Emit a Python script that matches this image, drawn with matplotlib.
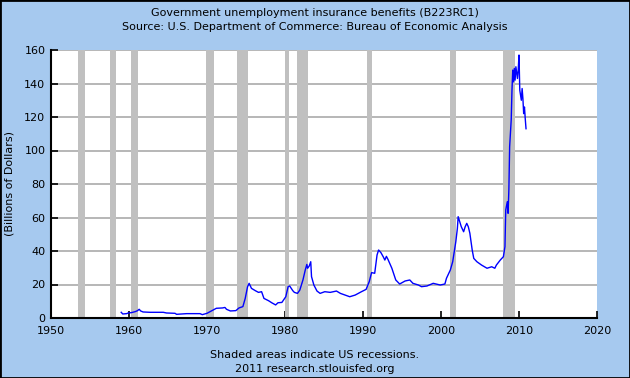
import matplotlib
matplotlib.use("Agg")
import matplotlib.pyplot as plt

# recessions (start, end) in decimal years
rec_start = [1953.5, 1957.6, 1960.3, 1969.9, 1973.9, 1980.0, 1981.5, 1990.5, 2001.2, 2007.9]
rec_end = [1954.4, 1958.3, 1961.1, 1970.9, 1975.2, 1980.5, 1982.9, 1991.2, 2001.9, 2009.5]

# B223RC1, billions of dollars
years = [1959.0, 1959.2, 1959.7, 1959.9, 1960.3, 1960.8, 1961.1, 1961.3, 1961.5, 1961.8,
         1962.7, 1964.4, 1964.8, 1965.9, 1966.1, 1967.4, 1969.1, 1969.4, 1970.0, 1970.4,
         1970.8, 1971.2, 1972.0, 1972.3, 1972.5, 1973.0, 1973.7, 1974.1, 1974.6, 1974.9,
         1975.2, 1975.4, 1975.7, 1976.2, 1976.6, 1977.0, 1977.3, 1977.9, 1978.3, 1978.8,
         1979.1, 1979.6, 1979.8, 1980.1, 1980.4, 1980.6, 1981.0, 1981.2, 1981.6, 1981.9,
         1982.3, 1982.6, 1982.8, 1982.9, 1983.1, 1983.3, 1983.4, 1983.7, 1984.1, 1984.5,
         1985.1, 1985.8, 1986.6, 1987.1, 1987.7, 1988.3, 1989.0, 1989.8, 1990.4, 1990.8,
         1991.1, 1991.5, 1991.8, 1992.0, 1992.3, 1992.6, 1992.8, 1993.0, 1993.2, 1993.7,
         1994.2, 1994.7, 1995.4, 1996.0, 1996.4, 1997.1, 1997.5, 1998.2, 1999.0, 1999.9,
         2000.5, 2000.7, 2001.2, 2001.5, 2001.7, 2001.9, 2002.1, 2002.2, 2002.4, 2002.6,
         2002.9, 2003.1, 2003.3, 2003.5, 2003.7, 2004.0, 2004.2, 2004.6, 2005.2, 2005.9,
         2006.5, 2006.9, 2007.1, 2007.6, 2008.0, 2008.2, 2008.3, 2008.5, 2008.6, 2008.7,
         2008.8, 2009.0, 2009.1, 2009.2, 2009.3, 2009.4, 2009.5, 2009.6, 2009.8, 2009.9,
         2010.0, 2010.1, 2010.3, 2010.4, 2010.5, 2010.6, 2010.7, 2010.8, 2010.9]
values = [3.4, 2.4, 2.6, 3.0, 3.2, 3.8, 4.4, 5.2, 4.2, 3.6,
          3.4, 3.4, 3.0, 2.8, 2.2, 2.6, 2.6, 2.0, 2.8, 3.8,
          4.8, 5.8, 6.0, 6.3, 5.2, 4.2, 4.4, 6.0, 6.8, 11.7,
          18.7, 20.7, 17.7, 16.3, 15.3, 15.7, 11.7, 10.3, 9.1, 7.8,
          9.1, 9.3, 10.7, 12.7, 18.7, 19.1, 16.3, 15.3, 14.7, 16.7,
          22.7, 28.7, 32.0, 29.7, 31.0, 33.6, 24.7, 19.7, 16.1, 14.7,
          15.7, 15.3, 16.1, 14.7, 13.7, 12.7, 13.7, 15.7, 17.1, 21.7,
          27.1, 26.7, 37.6, 40.6, 39.0, 36.5, 34.6, 36.8, 35.0, 29.7,
          22.7, 20.3, 22.1, 22.7, 20.7, 19.7, 18.7, 19.1, 20.7, 19.7,
          20.3, 23.7, 28.7, 33.6, 39.6, 45.6, 53.5, 60.5, 57.5, 54.5,
          51.5, 54.5, 56.5, 54.5, 50.6, 40.6, 35.6, 33.6, 31.6, 29.7,
          30.6, 29.7, 31.6, 34.6, 36.6, 42.6, 64.5, 69.4, 62.5, 76.4,
          102.3, 118.2, 136.1, 148.0, 141.0, 149.0, 142.0, 150.0, 143.0, 148.0,
          157.0, 136.0, 130.0, 137.0, 131.0, 122.0, 126.0, 119.0, 113.0]

bg = "#a6c9ef"

fig = plt.figure(figsize=(6.3, 3.78), dpi=100, facecolor=bg)
ax = fig.add_axes([51 / 630, 1 - 318 / 378, 546 / 630, 268 / 378])
ax.set_facecolor("white")

ax.grid(axis="y", color="#aaaaaa", linewidth=1.2, zorder=0)
ax.set_axisbelow(True)
for s, e in zip(rec_start, rec_end):
    ax.axvspan(s, e, color="#c0c0c0", linewidth=0, zorder=1)

ax.plot(years, values, color="#0000ff", linewidth=1.0, zorder=3)

ax.set_xlim(1950, 2020)
ax.set_ylim(0, 160)
ax.set_xticks(range(1950, 2021, 10))
ax.set_yticks(range(0, 161, 20))
ax.tick_params(direction="in", length=5, width=1.2, labelsize=8, colors="black")
ax.tick_params(axis="x", pad=6)
ax.tick_params(axis="y", pad=4)
for side in ["top", "right"]:
    ax.spines[side].set_visible(False)
for side in ["left", "bottom"]:
    ax.spines[side].set_linewidth(1.5)
ax.set_ylabel("(Billions of Dollars)", fontsize=8, labelpad=7)

fig.text(0.5, 1 - 13 / 378, "Government unemployment insurance benefits (B223RC1)",
         ha="center", va="center", fontsize=8)
fig.text(0.5, 1 - 27 / 378, "Source: U.S. Department of Commerce: Bureau of Economic Analysis",
         ha="center", va="center", fontsize=8)
fig.text(0.5, 1 - 355 / 378, "Shaded areas indicate US recessions.",
         ha="center", va="center", fontsize=8)
fig.text(0.5, 1 - 369 / 378, "2011 research.stlouisfed.org",
         ha="center", va="center", fontsize=8)

# outer frame
fig.patches.append(plt.Rectangle((0, 0), 1, 1, transform=fig.transFigure,
                                 fill=False, edgecolor="black", linewidth=2))

fig.savefig("out.png", dpi=100, facecolor=bg)
